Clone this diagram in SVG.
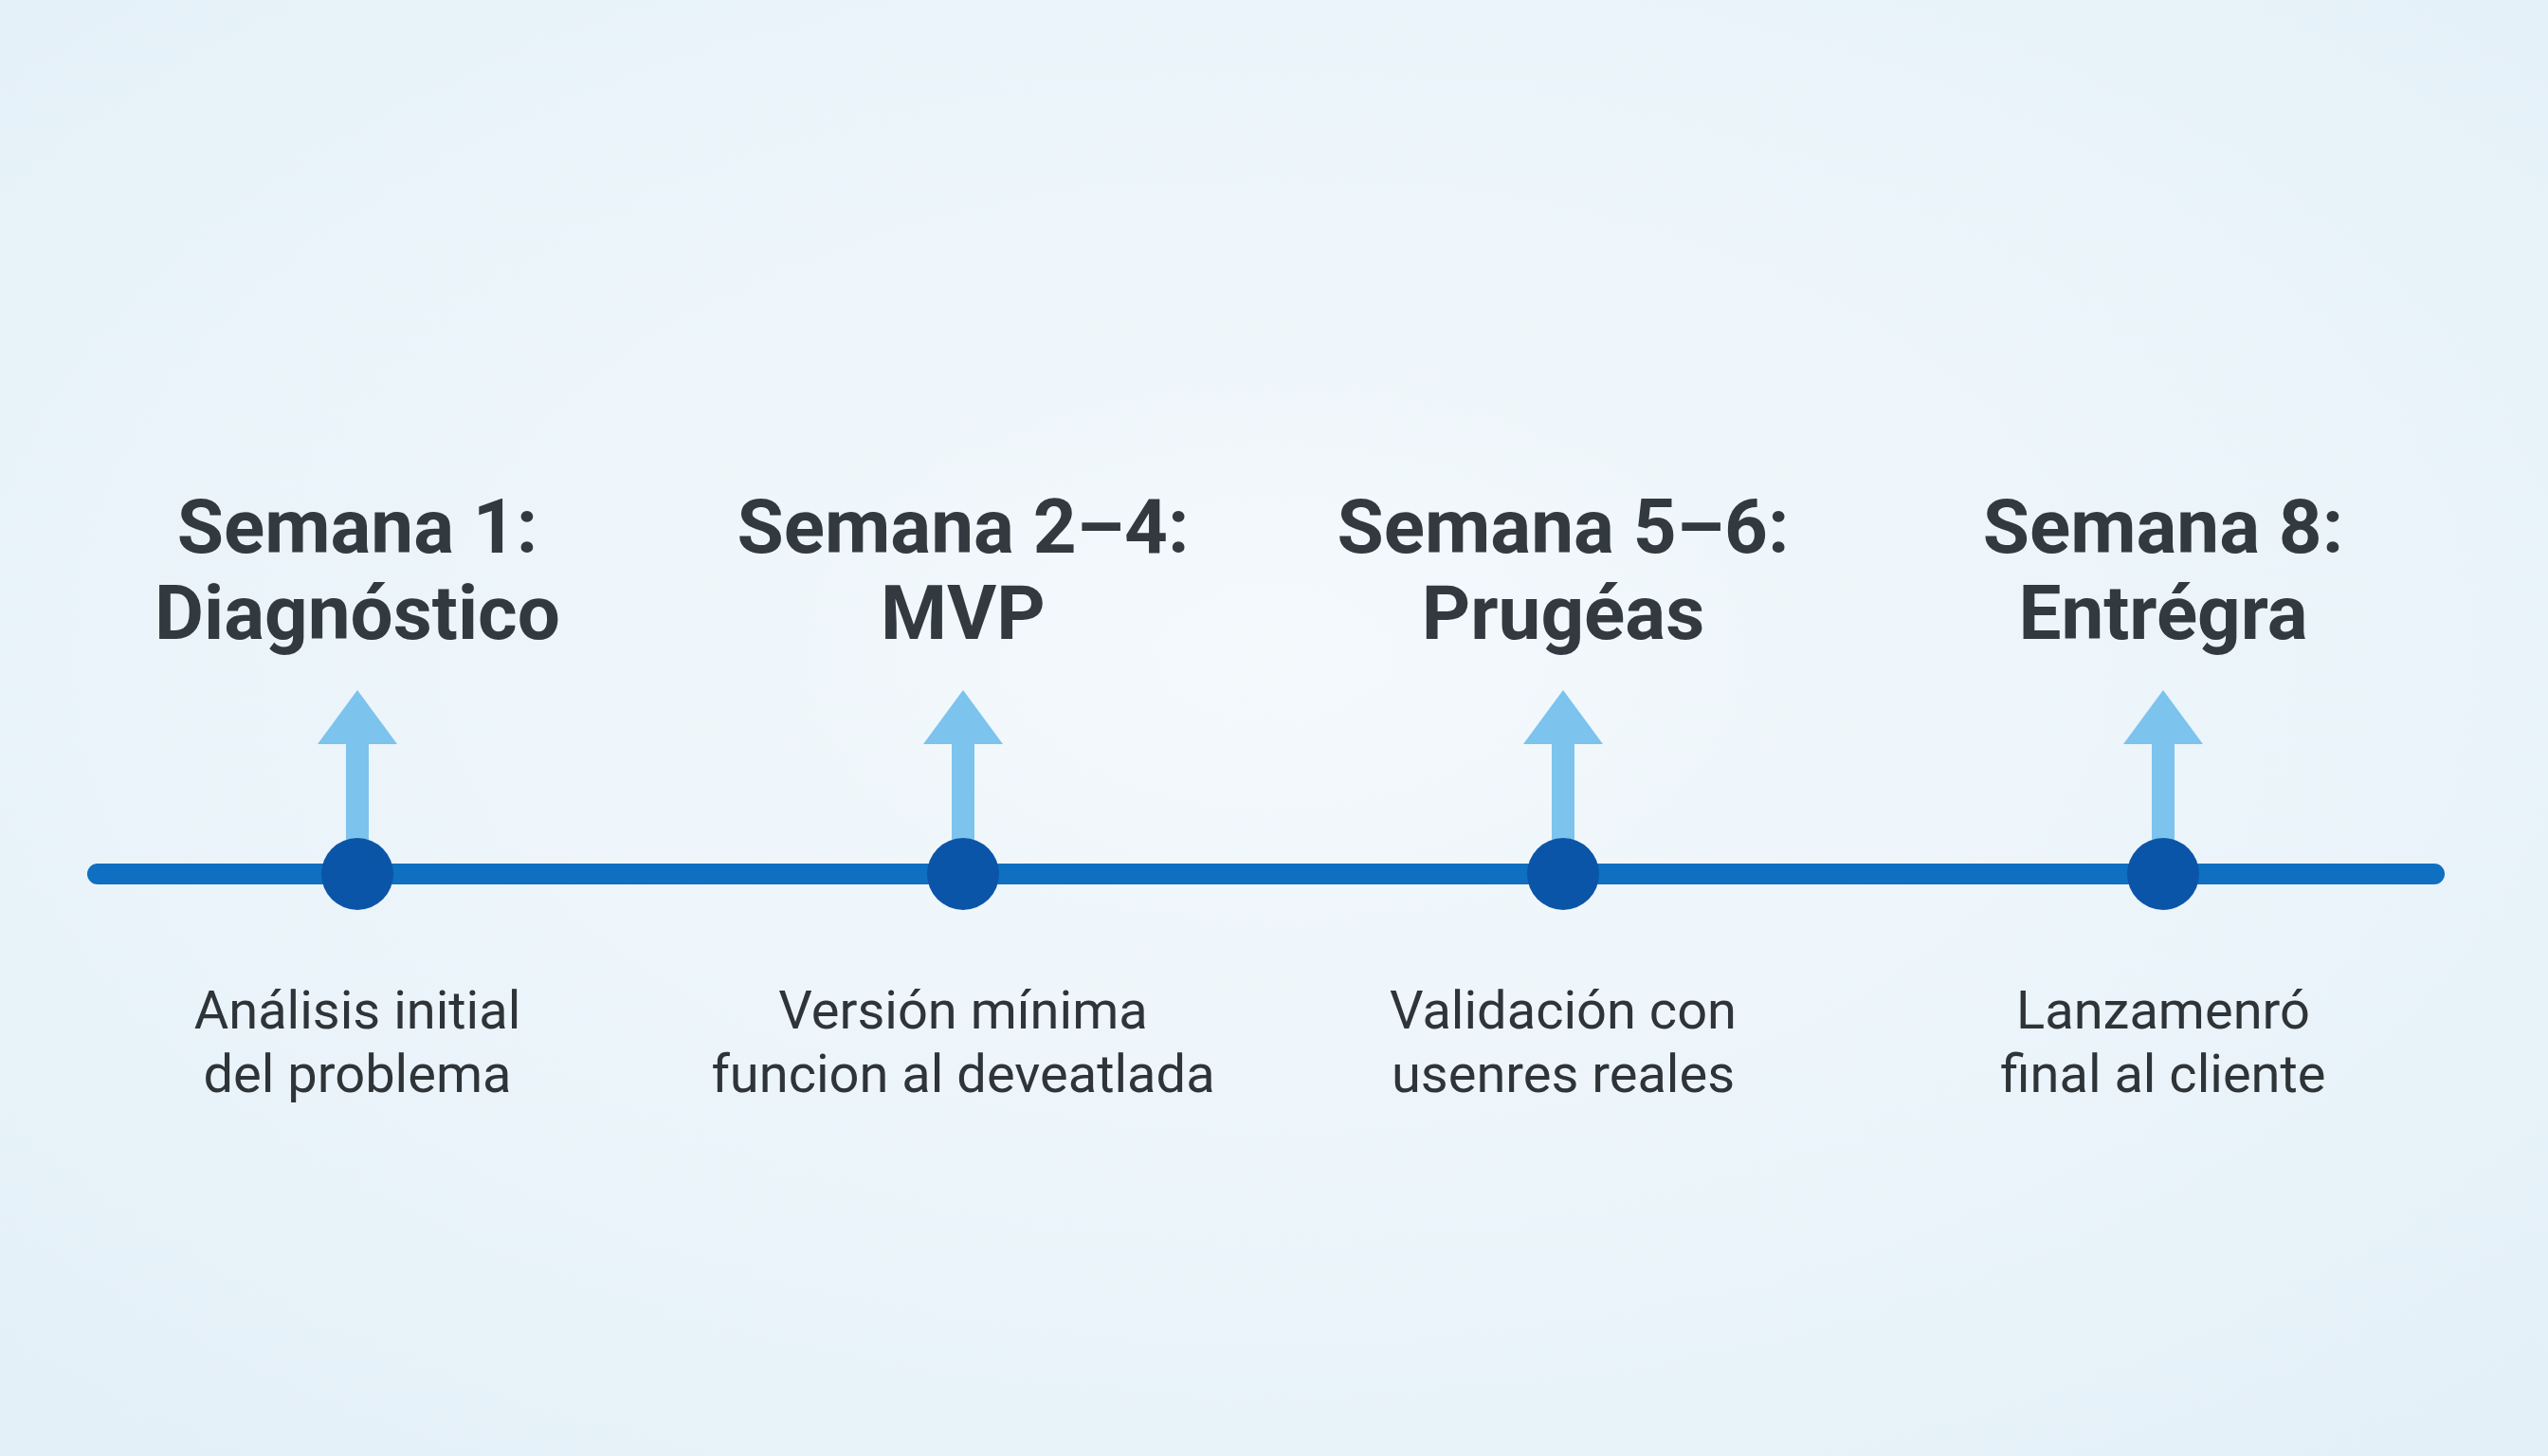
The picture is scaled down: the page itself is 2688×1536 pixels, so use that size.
<svg xmlns="http://www.w3.org/2000/svg" width="2688" height="1536" viewBox="0 0 2688 1536">
<defs>
<radialGradient id="bg" cx="50%" cy="45%" r="75%"><stop offset="0" stop-color="#f4f9fc"/><stop offset="1" stop-color="#e3f0f8"/></radialGradient>
<style>
.t{font-family:Roboto,"Liberation Sans",sans-serif;font-weight:700;font-size:80px;fill:#333a3f;text-anchor:middle}
.s{font-family:Roboto,"Liberation Sans",sans-serif;font-size:56px;fill:#2e3438;text-anchor:middle}
.ar{fill:#7cc3ee}
.dot{fill:#0a55a8}
</style>
</defs>
<rect width="2688" height="1536" fill="url(#bg)"/>
<g id="connectors">
<line x1="103" y1="922" x2="2568" y2="922" stroke="#0f6fc0" stroke-width="22" stroke-linecap="round"/>
</g>
<g id="n1">
<polygon class="ar" points="335,785 419,785 377,728"/><rect class="ar" x="365" y="783" width="24" height="110"/>
<circle class="dot" cx="377" cy="922" r="38"/>
<text class="t" x="377" y="583">Semana 1:</text><text class="t" x="377" y="674">Diagnóstico</text>
<text class="s" x="377" y="1085">Análisis initial</text><text class="s" x="377" y="1152">del problema</text>
</g>
<g id="n2">
<polygon class="ar" points="974,785 1058,785 1016,728"/><rect class="ar" x="1004" y="783" width="24" height="110"/>
<circle class="dot" cx="1016" cy="922" r="38"/>
<text class="t" x="1016" y="583">Semana 2–4:</text><text class="t" x="1016" y="674">MVP</text>
<text class="s" x="1016" y="1085">Versión mínima</text><text class="s" x="1016" y="1152">funcion al deveatlada</text>
</g>
<g id="n3">
<polygon class="ar" points="1607,785 1691,785 1649,728"/><rect class="ar" x="1637" y="783" width="24" height="110"/>
<circle class="dot" cx="1649" cy="922" r="38"/>
<text class="t" x="1649" y="583">Semana 5–6:</text><text class="t" x="1649" y="674">Prugéas</text>
<text class="s" x="1649" y="1085">Validación con</text><text class="s" x="1649" y="1152">usenres reales</text>
</g>
<g id="n4">
<polygon class="ar" points="2240,785 2324,785 2282,728"/><rect class="ar" x="2270" y="783" width="24" height="110"/>
<circle class="dot" cx="2282" cy="922" r="38"/>
<text class="t" x="2282" y="583">Semana 8:</text><text class="t" x="2282" y="674">Entrégra</text>
<text class="s" x="2282" y="1085">Lanzamenró</text><text class="s" x="2282" y="1152">final al cliente</text>
</g>
</svg>
